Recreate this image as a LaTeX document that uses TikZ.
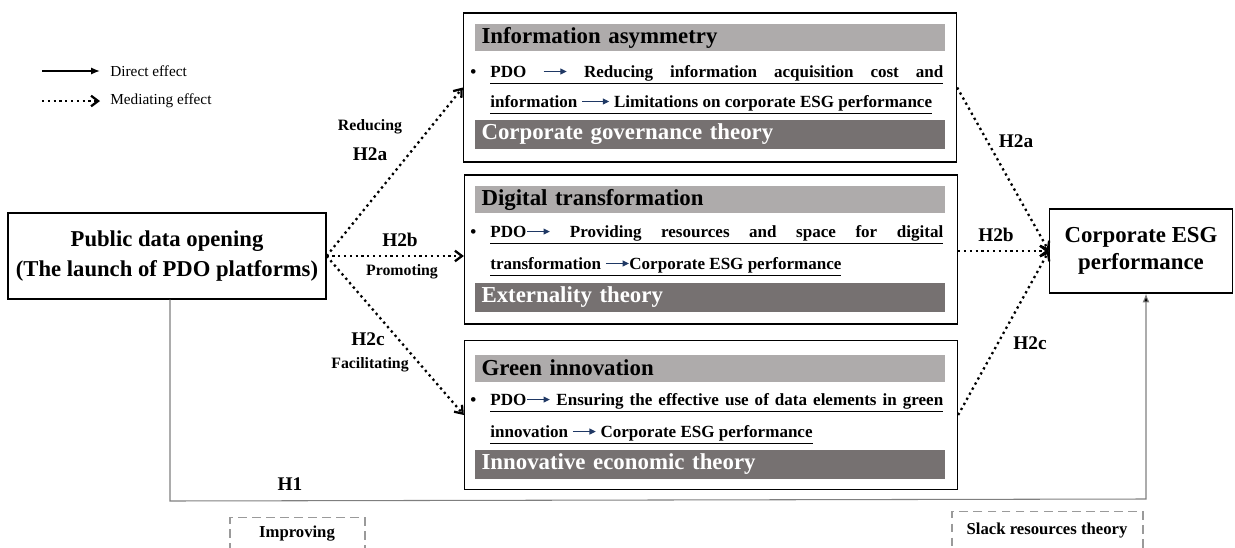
\documentclass[tikz,border=0pt]{standalone}
\usepackage{fontspec}
\setmainfont{Liberation Serif}
\usetikzlibrary{arrows.meta,positioning,calc}
\definecolor{lightbar}{HTML}{AEABAB}
\definecolor{darkbar}{HTML}{767171}
\definecolor{arrownavy}{HTML}{1F3864}
\definecolor{lineg}{HTML}{7F7F7F}
\definecolor{dashg}{HTML}{9A9A9A}
\newcommand{\pdoto}[1][0.46cm]{\tikz[baseline=-0.7ex]\draw[arrownavy, line width=0.6pt, -{Triangle[length=3.6pt,width=3.4pt]}] (0pt,0pt) -- (#1,0pt);}
\newcommand{\fullline}[1]{\underline{\makebox[9.06cm][s]{#1}}}

\begin{document}
\begin{tikzpicture}[x=0.02cm, y=-0.02cm,
  every node/.style={font=\bfseries},
  mainbox/.style={draw, line width=0.8pt, minimum width=9.86cm, minimum height=2.98cm},
  headbar/.style={fill=lightbar, inner xsep=0.14cm, inner ysep=0pt, text width=9.14cm, minimum height=0.54cm, align=left, font=\fontsize{13}{15}\selectfont\bfseries},
  theorybar/.style={fill=darkbar, text=white, inner xsep=0.14cm, inner ysep=0pt, text width=9.14cm, minimum height=0.58cm, align=left, font=\fontsize{13}{15}\selectfont\bfseries},
  bodyline/.style={anchor=base west, inner sep=0pt, font=\fontsize{9.7}{11}\selectfont\bfseries},
  endbox/.style={draw, line width=0.7pt, align=center},
  mediate/.style={dotted, line width=1.3pt, -{Straight Barb[length=4pt,width=6pt]}},
  direct/.style={draw=lineg, line width=0.6pt, -{Latex[length=5pt,width=4pt,fill=black]}},
  hyp/.style={font=\fontsize{11}{13}\selectfont\bfseries},
  verbl/.style={font=\fontsize{9}{11}\selectfont\bfseries},
  legend/.style={anchor=west, inner sep=0pt, font=\fontsize{8.7}{10}\selectfont},
  theorybox/.style={draw=dashg, dashed, line width=0.8pt, dash pattern=on 5pt off 3pt}
]
\clip (0,0) rectangle (1235,548);

% Legend
\node[legend] (lg-d) at (110,71) {Direct effect};
\node[legend] (lg-m) at (110,101) {Mediating effect};
\coordinate (lg-ds) at (42,71);
\coordinate (lg-ms) at (42,101);
\draw[line width=0.9pt, -{Latex[length=5pt,width=4pt]}] (lg-ds) -- ([xshift=-0.2cm]lg-d.west);
\draw[mediate] (lg-ms) -- ([xshift=-0.2cm]lg-m.west);

% Start and end
\node[endbox, minimum width=6.36cm, minimum height=1.72cm, font=\fontsize{12.9}{17.5}\selectfont\bfseries] (pdo) at (167,256) {Public data opening\\(The launch of PDO platforms)};
\node[endbox, minimum width=3.66cm, minimum height=1.68cm, font=\fontsize{13}{15}\selectfont\bfseries] (esg) at (1141,251) {Corporate ESG\\performance};

% Mediators
\node[mainbox] (ia) at (710,87.5) {};
\node[headbar] (ia-h) at (710,37.5) {Information asymmetry};
\node[bodyline] (ia-b) at (470,77) {\textbullet};
\node[bodyline] (ia-1) at (490,77) {\fullline{PDO \pdoto{} Reducing information acquisition cost and}};
\node[bodyline] (ia-2) at (490,107) {\underline{information \pdoto[0.54cm] Limitations on corporate ESG performance}};
\node[theorybar] (ia-t) at (710,134) {Corporate governance theory};

\node[mainbox] (dt) at (711,249.5) {};
\node[headbar] (dt-h) at (710,199.5) {Digital transformation};
\node[bodyline] (dt-b) at (470,237) {\textbullet};
\node[bodyline] (dt-1) at (490,237) {\fullline{PDO\pdoto{} Providing resources and space for digital}};
\node[bodyline] (dt-2) at (490,269) {\underline{transformation \pdoto{}Corporate ESG performance}};
\node[theorybar] (dt-t) at (710,297.5) {Externality theory};

\node[mainbox] (gi) at (711,415) {};
\node[headbar] (gi-h) at (710,368) {Green innovation};
\node[bodyline] (gi-b) at (470,405) {\textbullet};
\node[bodyline] (gi-1) at (490,405) {\fullline{PDO\pdoto{} Ensuring the effective use of data elements in green}};
\node[bodyline] (gi-2) at (490,437) {\underline{innovation \pdoto{} Corporate ESG performance}};
\node[theorybar] (gi-t) at (710,464.5) {Innovative economic theory};

% Mediating paths
\draw[mediate] (pdo.east) -- (ia.west);
\draw[mediate] (pdo.east) -- (pdo.east -| dt.west);
\draw[mediate] (pdo.east) -- (gi.west);
\draw[mediate] (ia.east) -- (esg.west);
\draw[mediate] (dt.east |- esg.west) -- (esg.west);
\draw[mediate] (gi.east) -- (esg.west);

\node[verbl] (l-red) at (370,127) {Reducing};
\node[hyp] (l-h2a) at (370,154) {H2a};
\node[hyp] (l-h2b) at (400,240) {H2b};
\node[verbl] (l-pro) at (402,272) {Promoting};
\node[hyp] (l-h2c) at (368,339) {H2c};
\node[verbl] (l-fac) at (370,365) {Facilitating};
\node[hyp] (r-h2a) at (1016,141) {H2a};
\node[hyp] (r-h2b) at (996,235) {H2b};
\node[hyp] (r-h2c) at (1030,343) {H2c};

% Direct path
\coordinate (h1a) at (170,501);
\coordinate (h1b) at (1146,499);
\draw[direct] (pdo.south -| h1a) -- (h1a) -- (h1b) -- (esg.south -| h1b);
\node[hyp] (l-h1) at (290,484) {H1};

% Theories (cut at the bottom)
\node[theorybox, minimum width=2.7cm, minimum height=1.4cm, anchor=north] (imp) at (297.5,517) {};
\node[verbl, font=\fontsize{9.5}{11}\selectfont\bfseries] (imp-t) at (297,534) {Improving};
\node[theorybox, minimum width=3.82cm, minimum height=1.4cm, anchor=north] (slk) at (1047.5,511) {};
\node[verbl, font=\fontsize{9.5}{11}\selectfont\bfseries] (slk-t) at (1047,531) {Slack resources theory};
\end{tikzpicture}
\end{document}
